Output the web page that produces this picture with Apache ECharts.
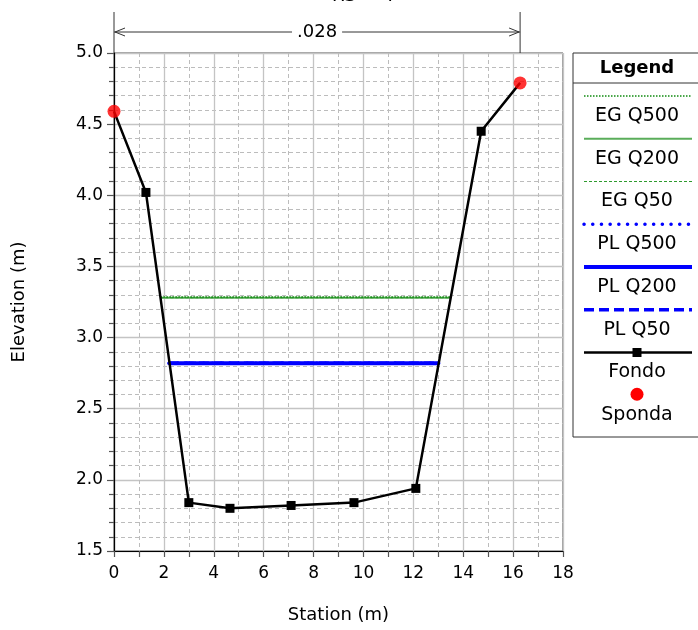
<!DOCTYPE html>
<html>
<head>
<meta charset="utf-8">
<script src="https://cdn.jsdelivr.net/npm/echarts@6/dist/echarts.min.js"></script>
<style>html,body{margin:0;padding:0;background:#fff}#c{width:698px;height:630px}</style>
</head>
<body>
<div id="c"></div>
<script>
// ---- data ----
const titleText = 'RS = 4';
const xTicks = { min: 0, max: 18, interval: 2 };
const yTicks = { min: 1.5, max: 5.0, interval: 0.5 };
const fondoX = [0, 1.28, 3.0, 4.65, 7.1, 9.62, 12.1, 14.72, 16.28];
const fondoY = [4.59, 4.02, 1.84, 1.80, 1.82, 1.84, 1.94, 4.45, 4.79];
const spondaX = [0, 16.28];
const spondaY = [4.59, 4.79];
const egStations = [1.86, 13.5];
const egQ500 = 3.285, egQ200 = 3.28, egQ50 = 3.28;
const plStations = [2.2, 13.03];
const plQ500 = 2.82, plQ200 = 2.82, plQ50 = 2.82;
const manningStations = [0, 16.28];
const manningLabel = '.028';
const legendNames = ['EG Q500', 'EG Q200', 'EG Q50', 'PL Q500', 'PL Q200', 'PL Q50', 'Fondo', 'Sponda'];

const FONT = '"DejaVu Sans", "Liberation Sans", sans-serif';
const pairs = (xs, ys) => xs.map((x, i) => [x, ys[i]]);
const flat = (xs, y) => xs.map(x => [x, y]);

const styles = {
  'EG Q500': { color: '#0f8a0f', width: 1.4, type: [1.5, 1.5], cap: 'butt' },
  'EG Q200': { color: '#5aad5a', width: 2.2, type: 'solid', cap: 'butt' },
  'EG Q50':  { color: '#2e9a2e', width: 1.2, type: [3, 2], cap: 'butt' },
  'PL Q500': { color: '#0000ff', width: 3.5, type: [0.1, 8.6], cap: 'round' },
  'PL Q200': { color: '#0000ff', width: 4, type: 'solid', cap: 'butt' },
  'PL Q50':  { color: '#0000ff', width: 3.5, type: [10, 5], cap: 'butt' },
  'Fondo':   { color: '#000000', width: 2.5, type: 'solid', cap: 'butt' }
};

function lineSeries(name, data, extra) {
  const s = styles[name];
  return Object.assign({
    name, type: 'line', data, showSymbol: false, symbol: 'none', animation: false,
    lineStyle: { color: s.color, width: s.width, type: s.type, cap: s.cap },
    itemStyle: { color: s.color }, z: 3
  }, extra || {});
}

// legend graphic
const LX0 = 573, LY0 = 53, LW = 130, LH = 384;
const lineX1 = 584, lineX2 = 692, cx = 637;
const legendGraphic = [
  { type: 'rect', shape: { x: LX0, y: LY0, width: LW, height: LH }, style: { fill: '#fff', stroke: '#333', lineWidth: 1 }, z: 100 },
  { type: 'line', shape: { x1: LX0, y1: 83, x2: LX0 + LW, y2: 83 }, style: { stroke: '#333', lineWidth: 1 }, z: 101 },
  { type: 'text', x: cx, y: 68, style: { text: 'Legend', font: 'bold 18px ' + FONT, fill: '#000', align: 'center', verticalAlign: 'middle', textAlign: 'center', textVerticalAlign: 'middle' }, z: 101 }
];
const step = 42.75;
legendNames.forEach((n, i) => {
  const ly = 96 + i * step;
  const ty = 116 + i * step;
  if (n === 'Sponda') {
    legendGraphic.push({ type: 'circle', shape: { cx: cx, cy: ly - 1, r: 6.5 }, style: { fill: '#ff0000' }, z: 101 });
  } else {
    const s = styles[n];
    legendGraphic.push({ type: 'line', shape: { x1: lineX1, y1: ly, x2: lineX2, y2: ly },
      style: { stroke: s.color, lineWidth: s.width, lineDash: s.type === 'solid' ? null : s.type, lineCap: s.cap }, z: 101 });
    if (n === 'Fondo') {
      legendGraphic.push({ type: 'rect', shape: { x: cx - 4.5, y: ly - 4.5, width: 9, height: 9 }, style: { fill: '#000' }, z: 102 });
    }
  }
  legendGraphic.push({ type: 'text', x: cx, y: ty, style: { text: n, font: '19px ' + FONT, fill: '#000', align: 'center', verticalAlign: 'middle', textAlign: 'center', textVerticalAlign: 'middle' }, z: 101 });
});
legendGraphic.push({ type: 'text', x: 332, y: 5.5, style: { text: titleText, font: '18px ' + FONT, fill: '#000', align: 'left', verticalAlign: 'bottom', textAlign: 'left', textVerticalAlign: 'bottom' }, z: 101 });

const lastIdx = fondoX.length - 1;
const chart = echarts.init(document.getElementById('c'), null, { renderer: 'canvas' });
const option = {
  animation: false,
  backgroundColor: '#fff',
  grid: { left: 114, right: 135, top: 53, bottom: 79, show: true, borderColor: '#444', borderWidth: 1, backgroundColor: '#fff' },
  xAxis: {
    type: 'value', min: xTicks.min, max: xTicks.max, interval: xTicks.interval,
    name: 'Station (m)', nameLocation: 'middle', nameGap: 55,
    nameTextStyle: { fontFamily: FONT, fontSize: 18, color: '#000' },
    axisLine: { show: true, lineStyle: { color: '#000', width: 1.2 } },
    axisTick: { show: true, inside: false, length: 6, lineStyle: { color: '#555', width: 1.2 } },
    minorTick: { show: true, splitNumber: 2, length: 6, lineStyle: { color: '#555', width: 1.2 } },
    axisLabel: { fontFamily: FONT, fontSize: 17, color: '#000', margin: 14 },
    splitLine: { show: true, lineStyle: { color: '#c4c4c4', width: 1.3 } },
    minorSplitLine: { show: true, lineStyle: { color: '#bcbcbc', width: 1, type: [4, 3] } }
  },
  yAxis: {
    type: 'value', min: yTicks.min, max: yTicks.max, interval: yTicks.interval,
    name: 'Elevation (m)', nameLocation: 'middle', nameGap: 86,
    nameTextStyle: { fontFamily: FONT, fontSize: 18, color: '#000' },
    axisLine: { show: true, lineStyle: { color: '#000', width: 1.2 } },
    axisTick: { show: true, inside: false, length: 7, lineStyle: { color: '#555', width: 1.2 } },
    minorTick: { show: true, splitNumber: 5, length: 5, lineStyle: { color: '#555', width: 1.2 } },
    axisLabel: { fontFamily: FONT, fontSize: 17, color: '#000', margin: 11, formatter: v => v.toFixed(1) },
    splitLine: { show: true, lineStyle: { color: '#c4c4c4', width: 1.3 } },
    minorSplitLine: { show: true, lineStyle: { color: '#bcbcbc', width: 1, type: [4, 3] } }
  },
  graphic: legendGraphic,
  series: [
    lineSeries('EG Q200', flat(egStations, egQ200)),
    lineSeries('EG Q50', flat(egStations, egQ50)),
    lineSeries('EG Q500', flat(egStations, egQ500)),
    lineSeries('PL Q200', flat(plStations, plQ200)),
    lineSeries('PL Q50', flat(plStations, plQ50)),
    lineSeries('PL Q500', flat(plStations, plQ500)),
    lineSeries('Fondo', pairs(fondoX, fondoY), { showSymbol: true, symbol: 'rect',
      symbolSize: (v, p) => (p.dataIndex === 0 || p.dataIndex === lastIdx) ? 0 : 9, z: 4 }),
    { name: 'Sponda', type: 'scatter', data: pairs(spondaX, spondaY), symbol: 'circle', symbolSize: 13,
      itemStyle: { color: '#ff0000' }, z: 5, animation: false },
    { name: 'n', type: 'custom', clip: false, z: 6, animation: false,
      data: [[manningStations[0], yTicks.max]],
      renderItem: (params, api) => {
        const a = api.coord([manningStations[0], yTicks.max]);
        const b = api.coord([manningStations[1], yTicks.max]);
        const top = a[1] - 41, yl = a[1] - 21;
        const st = { stroke: '#333', lineWidth: 1, fill: null };
        return { type: 'group', children: [
          { type: 'line', shape: { x1: a[0], y1: a[1], x2: a[0], y2: top }, style: st },
          { type: 'line', shape: { x1: b[0], y1: b[1], x2: b[0], y2: top }, style: st },
          { type: 'line', shape: { x1: a[0], y1: yl, x2: b[0], y2: yl }, style: st },
          { type: 'polyline', shape: { points: [[a[0] + 11, yl - 4], [a[0] + 1, yl], [a[0] + 11, yl + 4]] }, style: st },
          { type: 'polyline', shape: { points: [[b[0] - 11, yl - 4], [b[0] - 1, yl], [b[0] - 11, yl + 4]] }, style: st },
          { type: 'text', x: (a[0] + b[0]) / 2, y: yl, style: { text: manningLabel, font: '18px ' + FONT, fill: '#000',
            backgroundColor: '#fff', padding: [0, 5], align: 'center', verticalAlign: 'middle', textAlign: 'center', textVerticalAlign: 'middle' } }
        ]};
      }
    }
  ]
};
chart.setOption(option);
</script>
</body>
</html>
